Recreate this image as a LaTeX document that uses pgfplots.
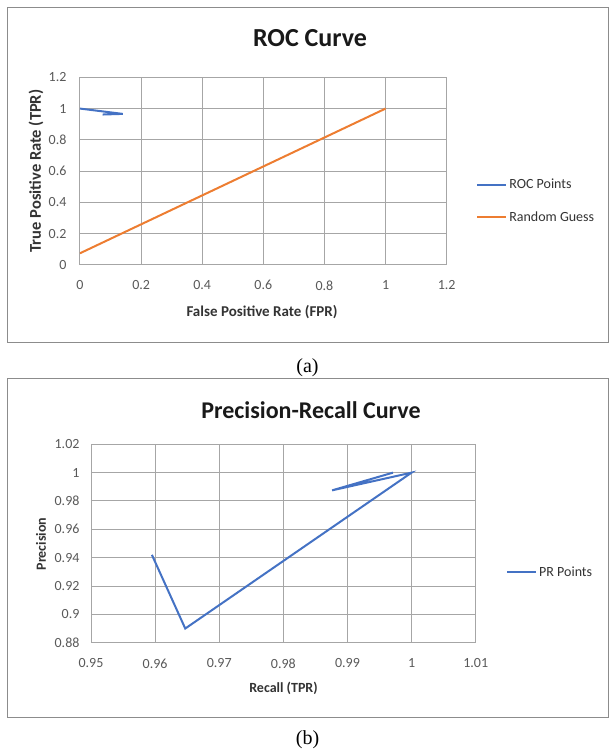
\documentclass[border=0pt]{standalone}
\usepackage{pgfplots}
\pgfplotsset{compat=1.18}
\usepackage{fontspec}
\setmainfont{Carlito}
\newfontfamily\timesfont{Liberation Serif}
\definecolor{xlblue}{HTML}{4472C4}
\definecolor{xlorange}{HTML}{ED7D31}
\definecolor{tickgray}{HTML}{595959}
\definecolor{gridgray}{HTML}{A6A6A6}
\definecolor{boxgray}{HTML}{8C8C8C}
\pgfplotsset{
  excel/.style={
    scale only axis,
    grid=major,
    grid style={gridgray, line width=1pt},
    axis line style={gridgray, line width=1pt},
    major tick length=0pt,
    tick label style={font=\fontsize{14}{16}\selectfont, text=tickgray},
    legend style={draw=none, fill=none, font=\fontsize{14}{16}\selectfont, text=black!80, row sep=17pt},
    legend cell align=left,
    legend image code/.code={\draw[#1] (0pt,0pt) -- (29pt,0pt);},
  }
}
\begin{document}
\begin{tikzpicture}
\useasboundingbox (0pt,0pt) rectangle (609pt,755pt);
% boxes
\draw[boxgray, line width=1pt] (7pt,412pt) rectangle (608.5pt,747pt);
\draw[boxgray, line width=1pt] (7pt,37pt) rectangle (608.5pt,376pt);
% ---- (a) ROC
\begin{axis}[excel,
  at={(80pt,490pt)}, anchor=south west,
  width=366.7pt, height=187.7pt,
  xmin=0, xmax=1.2, ymin=0, ymax=1.2,
  xtick={0,0.2,0.4,0.6,0.8,1,1.2}, xticklabels={0,0.2,0.4,0.6,0.8,1,1.2},
  ytick={0,0.2,0.4,0.6,0.8,1,1.2}, yticklabels={0,0.2,0.4,0.6,0.8,1,1.2},
  xticklabel style={yshift=-12pt},
  yticklabel style={xshift=-10pt},
  legend style={at={(1.072,0.341)}, anchor=west},
]
\addplot[xlblue, line width=2pt] coordinates {(0,1.0) (0.14,0.966) (0.074,0.962)};
\addlegendentry{ROC Points}
\addplot[xlorange, line width=2pt] coordinates {(0,0.075) (1,1)};
\addlegendentry{Random Guess}
\end{axis}
\node[anchor=base, font=\fontsize{26}{30}\selectfont\bfseries, text=black!90] at (310pt,708.3pt) {ROC Curve};
\node[anchor=base, font=\fontsize{15}{18}\selectfont\bfseries, text=black!80] at (262pt,438pt) {False Positive Rate (FPR)};
\node[rotate=90, font=\fontsize{16.5}{19}\selectfont\bfseries, text=black!80] at (36pt,584pt) {True Positive Rate (TPR)};
\node[anchor=base, font=\timesfont\fontsize{20}{24}\selectfont] at (307.5pt,382pt) {(a)};
% ---- (b) PR
\begin{axis}[excel,
  at={(91pt,112.3pt)}, anchor=south west,
  width=384.7pt, height=198.4pt,
  xmin=0.95, xmax=1.01, ymin=0.88, ymax=1.02,
  xtick={0.95,0.96,0.97,0.98,0.99,1,1.01}, xticklabels={0.95,0.96,0.97,0.98,0.99,1,1.01},
  ytick={0.88,0.9,0.92,0.94,0.96,0.98,1,1.02}, yticklabels={0.88,0.9,0.92,0.94,0.96,0.98,1,1.02},
  xticklabel style={yshift=-12.6pt},
  yticklabel style={xshift=-8pt},
  legend style={at={(1.071,0.356)}, anchor=west},
]
\addplot[xlblue, line width=2pt] coordinates {(0.9595,0.942) (0.9647,0.890) (1.0,1.0) (0.9876,0.9875) (0.9971,1.0)};
\addlegendentry{PR Points}
\end{axis}
\node[anchor=base, font=\fontsize{24}{28}\selectfont\bfseries, text=black!90] at (311pt,336pt) {Precision-Recall Curve};
\node[anchor=base, font=\fontsize{14}{16}\selectfont\bfseries, text=black!80] at (283.5pt,62pt) {Recall (TPR)};
\node[rotate=90, font=\fontsize{14}{16}\selectfont\bfseries, text=black!80] at (41pt,211pt) {Precision};
\node[anchor=base, font=\timesfont\fontsize{20}{24}\selectfont] at (307.5pt,10pt) {(b)};
\end{tikzpicture}
\end{document}
